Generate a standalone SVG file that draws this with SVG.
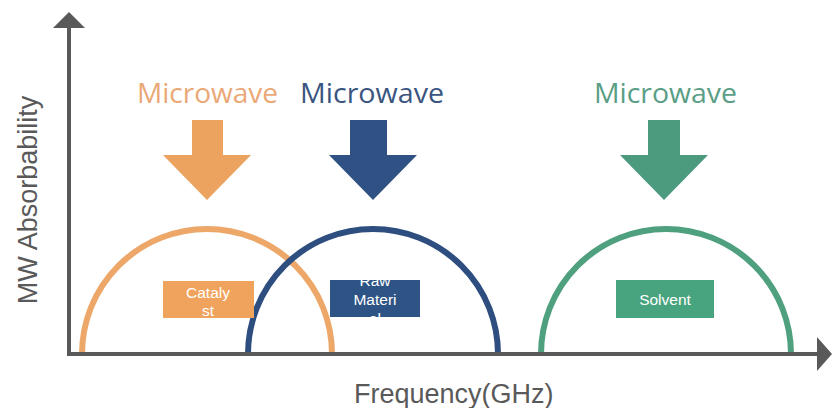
<svg xmlns="http://www.w3.org/2000/svg" width="832" height="408" viewBox="0 0 832 408">
<defs>
<style>
.axis{stroke:#595959;stroke-width:4;fill:none}
.arc{fill:none;stroke-width:6}
.mw{font-family:"Open Sans","Liberation Sans",sans-serif;font-size:27px}
.ax{font-family:"Liberation Sans",Arial,sans-serif;font-size:27px;fill:#595959}
.bl{font-family:"Liberation Sans",Arial,sans-serif;font-size:15.5px;fill:#ffffff;text-anchor:middle}
</style>
<clipPath id="c1"><rect x="163" y="281" width="91" height="37"/></clipPath>
<clipPath id="c2"><rect x="330" y="280" width="90" height="37"/></clipPath>
<clipPath id="c3"><rect x="616" y="280" width="98" height="38"/></clipPath>
</defs>
<rect width="832" height="408" fill="#ffffff"/>
<g id="connectors">
<path class="arc" stroke="#eca769" d="M82,354 A125,125 0 0 1 332,354"/>
<path class="arc" stroke="#2e4e80" d="M248,354 A125,125 0 0 1 498,354"/>
<path class="arc" stroke="#4fa07f" d="M541,354 A125,125 0 0 1 791,354"/>
<line class="axis" x1="69" y1="26" x2="69" y2="356"/>
<polygon fill="#595959" points="69,12 53,28 85,28"/>
<line class="axis" x1="67" y1="354" x2="818" y2="354"/>
<polygon fill="#595959" points="832,354 817,337 817,371"/>
</g>
<g id="mw-catalyst">
<text class="mw" x="137" y="103" fill="#eaa877" textLength="141" lengthAdjust="spacingAndGlyphs">Microwave</text>
<polygon fill="#eca35f" points="192,120 223,120 223,155 251,155 207,200 163,155 192,155"/>
</g>
<g id="mw-raw">
<text class="mw" x="300" y="103" fill="#3a5580" textLength="144" lengthAdjust="spacingAndGlyphs">Microwave</text>
<polygon fill="#2f5183" points="350,120 387,120 387,155 417,155 373,200 329,155 350,155"/>
</g>
<g id="mw-solvent">
<text class="mw" x="594" y="103" fill="#5a9e86" textLength="143" lengthAdjust="spacingAndGlyphs">Microwave</text>
<polygon fill="#4c9b7e" points="648,120 680,120 680,155 708,155 664,200 620,155 648,155"/>
</g>
<g id="catalyst">
<rect x="163" y="281" width="91" height="37" fill="#f0a35d"/>
<g clip-path="url(#c1)">
<text class="bl" x="208" y="298">Cataly</text>
<text class="bl" x="208" y="316">st</text>
</g>
</g>
<g id="raw-material">
<rect x="330" y="280" width="90" height="37" fill="#2e5486"/>
<g clip-path="url(#c2)">
<text class="bl" x="375" y="286">Raw</text>
<text class="bl" x="375" y="305">Materi</text>
<text class="bl" x="375" y="324">al</text>
</g>
</g>
<g id="solvent">
<rect x="616" y="280" width="98" height="38" fill="#48a47e"/>
<g clip-path="url(#c3)">
<text class="bl" x="665" y="305">Solvent</text>
</g>
</g>
<g id="labels">
<text class="ax" x="354" y="403">Frequency(GHz)</text>
<text class="ax" transform="translate(37,200) rotate(-90)" text-anchor="middle">MW Absorbability</text>
</g>
</svg>
